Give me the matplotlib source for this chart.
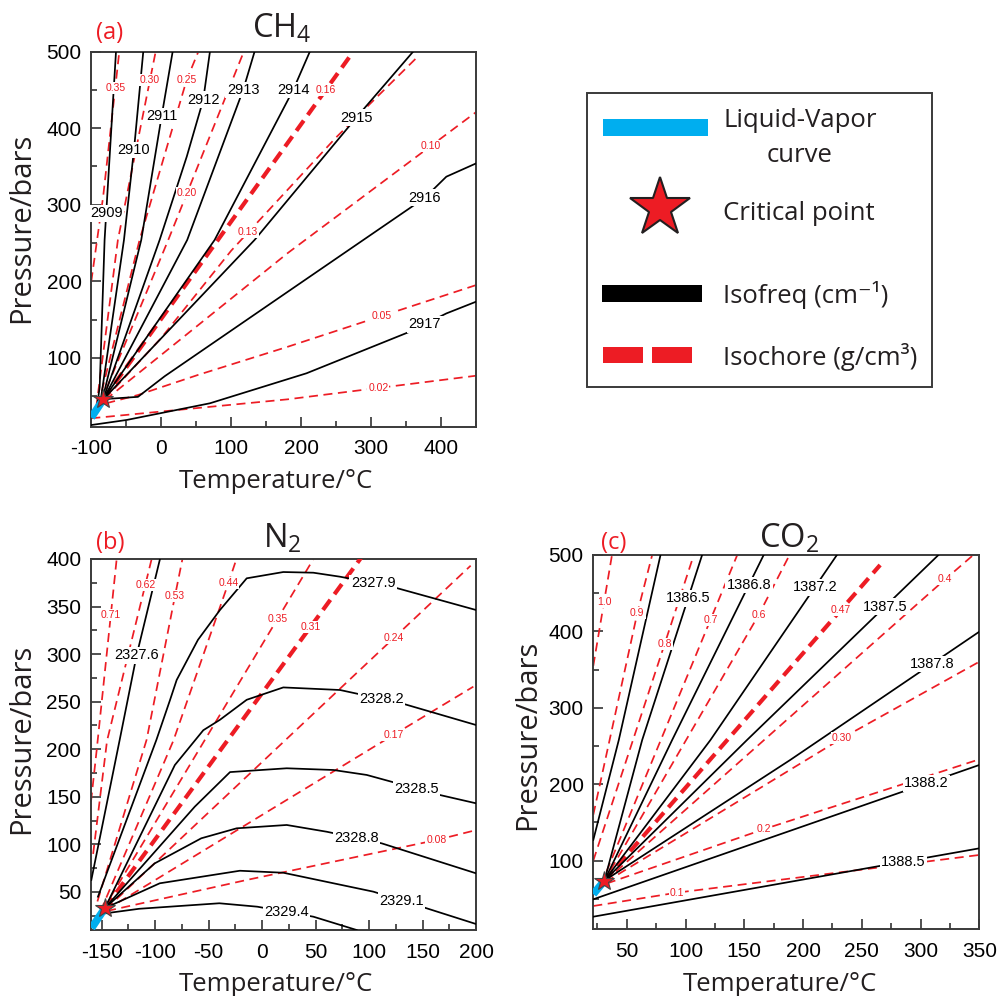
import numpy as np
import matplotlib
matplotlib.use('Agg')
import matplotlib.pyplot as plt
from matplotlib.patches import Rectangle
from matplotlib.ticker import MultipleLocator

plt.rcParams['lines.scale_dashes'] = False
plt.rcParams['axes.unicode_minus'] = False
plt.rcParams['mathtext.fontset'] = 'custom'
plt.rcParams['mathtext.rm'] = 'Open Sans'
plt.rcParams['mathtext.it'] = 'Open Sans'
plt.rcParams['mathtext.bf'] = 'Open Sans'

RED = '#ED1C24'
BLUE = '#00AEEF'
INK = '#231F20'

# ---------------- DATA ----------------
# (a) CH4
a_crit = (-82.6, 46.0)
a_lv_T = [-100, -82.6]
a_lv_P = [22, 46]
a_dens = ['0.35', '0.30', '0.25', '0.20', '0.16', '0.13', '0.10', '0.05', '0.02']
a_dens_T = [[-100, -83, -60], [-93, -62, -8], [-90, -31, 36.3, 53], [-86, 10, 118],
            [-82.6, 269], [-81, 0, 100, 250, 365], [-80, 181, 450],
            [-78.6, -33.3, 52.4, 181, 450], [-100, 181, 450]]
a_dens_P = [[200, 311, 500], [35, 254, 500], [38, 254, 463, 500], [43, 254, 500],
            [46, 493], [46, 126, 240, 388, 492], [45, 237, 421],
            [40.6, 51.4, 77.6, 114.5, 195], [21, 45.8, 76.6]]
a_freq = ['2909', '2910', '2911', '2912', '2913', '2914', '2915', '2916', '2917']
a_freq_T = [[-92, -88, -81, -64.7], [-87, -53.3, -39, -25.7], [-84, -28.6, 0.6, 16.3],
            [-83, -2.3, 36.5, 60, 69.6], [-82.6, 37.1, 117.1, 133.4],
            [-82.6, 76.3, 188.6, 212.4], [-82.6, 133.4, 279, 360],
            [-82.6, -33.3, 5, 181, 376.7, 407.6, 450],
            [-100, -49.4, 69.6, 207.7, 355, 407.6, 450]]
a_freq_P = [[35, 62, 254, 500], [42, 254, 371.6, 500], [46, 254, 416, 500],
            [46, 254, 363, 437, 500], [46, 254, 450, 500], [46, 254, 450, 500],
            [46, 254, 414, 500], [46, 49, 76, 186.4, 309, 336.7, 354],
            [12.2, 18.8, 40.6, 79.8, 134, 158, 173.3]]

# (b) N2
b_crit = (-147.0, 33.0)
b_lv_T = [-159.5, -147]
b_lv_P = [12, 33]
b_dens = ['0.71', '0.62', '0.53', '0.44', '0.35', '0.31', '0.24', '0.17', '0.08']
b_dens_T = [[-160, -154.7, -136], [-158, -145, -103.3], [-154, -108, -81.5, -74.5],
            [-151, -83, -31.6, -24], [-149, 48], [-147, 93], [-146, 195],
            [-146, 122.7, 197.5], [-145, -14.4, 163.2, 200]]
b_dens_P = [[145, 199, 400], [90, 209, 400], [40, 210, 361, 400],
            [30, 209, 374.5, 400], [31, 400], [33, 402], [32, 393],
            [31, 215, 265.8], [30, 62.6, 104.6, 115]]
b_freq = ['2327.6', '2327.9', '2328.2', '2328.5', '2328.8', '2329.1', '2329.4']
b_freq_T = [[-159.7, -133.2, -117.3, -95.5],
            [-153.5, -98.9, -86.1, -79.9, -60, -39.4, -14.4, 19.8, 47.9, 72.8, 121.2, 200],
            [-147, -81.6, -55, -39.4, -14.4, 19.8, 72.8, 130.4, 200],
            [-147, -63, -30, 23, 66.6, 97.8, 166.3, 200],
            [-147, -100.5, -56.9, -23.8, 23, 60.4, 111.8, 200],
            [-147, -95.7, -20.8, 19.8, 104, 153.9, 200],
            [-150, -115, -40, -4.5, 47.9, 88.4]]
b_freq_P = [[62.6, 209.7, 299, 400],
            [45, 209.7, 251.8, 272.8, 315, 346.4, 379.7, 386.3, 385.6, 381.4, 370.9, 346.4],
            [33, 183.4, 220, 231, 252, 265, 262.3, 248.3, 225.5],
            [33, 139.6, 176, 180, 178.2, 173, 151.9, 143.2],
            [33, 80, 106.4, 116.9, 120.4, 113.3, 101.1, 69.6],
            [33, 59.1, 72.3, 70.2, 50.3, 32.8, 16.3],
            [27, 32.3, 38.1, 34.5, 24, 10]]

# (c) CO2
c_crit = (31.0, 73.8)
c_lv_T = [21.5, 31]
c_lv_P = [56, 73.8]
c_dens = ['1.0', '0.9', '0.8', '0.7', '0.6', '0.47', '0.4', '0.30', '0.2', '0.1']
c_dens_T = [[21.5, 37.4], [21.5, 58.9, 71.6], [21.5, 82.1, 107], [28, 144],
            [30, 162.2, 188.5], [31, 265.6], [31.5, 320.8, 344.9], [32, 233, 350],
            [33, 166.4, 350], [21.5, 92.9, 350]]
c_dens_P = [[355, 500], [160, 423.6, 500], [100, 383, 500], [68, 500],
            [71, 421.4, 500], [73.8, 486.9], [73, 468, 500], [72, 260, 360.3],
            [70, 140.9, 232.5], [40.5, 58, 107.3]]
c_freq = ['', '1386.5', '1386.8', '1387.2', '1387.5', '1387.8', '1388.2', '1388.5']
c_freq_T = [[21.5, 43.2, 78.7], [31, 63.1, 114.1], [31, 88.6, 166.5], [31, 121.2, 228.8],
            [31, 152.3, 315.2], [31, 189, 350], [21.5, 350], [21.5, 350]]
c_freq_P = [[127, 257.8, 500], [73.8, 257.8, 500], [73.8, 257.8, 500], [73.8, 257.8, 500],
            [73.8, 257.8, 500], [73.8, 231.6, 399.6], [49.3, 225.1], [26.5, 116]]

# ---------------- LAYOUT (label anchors) ----------------
a_dens_lab = [('P', 452.5), ('P', 463), ('P', 463), ('P', 315), ('P', 450), ('P', 264),
              ('P', 376.7), ('P', 154.6), ('P', 60.6)]
a_freq_lab = [('P', 289), ('P', 371.6), ('P', 416), ('P', 437), ('P', 450), ('P', 450),
              ('P', 414), ('P', 309), ('P', 144)]
b_dens_lab = [('P', 341), ('P', 372.7), ('P', 361), ('P', 374.5), ('P', 336.6), ('P', 328.8),
              ('P', 316.6), ('P', 215), ('P', 104.6)]
b_freq_lab = [('P', 299), ('T', 103.9), ('T', 111.8), ('T', 144.5), ('T', 88.4),
              ('T', 130.5), ('T', 23)]
c_dens_lab = [('P', 438.8), ('P', 423.6), ('P', 383), ('P', 414.9), ('P', 421.4), ('P', 428),
              ('P', 468), ('T', 233), ('T', 166.4), ('T', 92.9)]
c_freq_lab = [None, ('P', 443.3), ('P', 460.7), ('P', 457.7), ('P', 432.3), ('T', 309.5),
              ('T', 305.2), ('T', 285.3)]

W, H = 998, 996
fig = plt.figure(figsize=(W / 100, H / 100), dpi=100)

TICK_FS = 15
BLACK_LAB_FS = 10.5
RED_LAB_FS = 7.5


def px_axes(l, r, t, b):
    return fig.add_axes([l / W, 1 - b / H, (r - l) / W, (b - t) / H])


def put_label(ax, T, P, spec, text, color, size):
    key, val = spec
    if key == 'P':
        x, y = np.interp(val, P, T), val
    else:
        x, y = val, np.interp(val, T, P)
    ax.text(x, y, text, color=color, fontsize=size, ha='center', va='center',
            family='Liberation Sans', zorder=7,
            bbox=dict(boxstyle='square,pad=0.1', fc='white', ec='none'))


def panel(ax, crit, lvT, lvP, dn, dT, dP, dlab, fn, fT, fP, flab, crit_name,
          xlim, ylim, xmaj, xmin, ymaj, ymin):
    for name, T, P, spec in zip(dn, dT, dP, dlab):
        if name == crit_name:
            ax.plot(T, P, color=RED, lw=3.0, ls=(0, (9, 5)), zorder=3,
                    dash_capstyle='butt')
        else:
            ax.plot(T, P, color=RED, lw=1.25, ls=(0, (6.5, 4)), zorder=2,
                    dash_capstyle='butt')
        put_label(ax, T, P, spec, name, RED, RED_LAB_FS)
    for name, T, P, spec in zip(fn, fT, fP, flab):
        ax.plot(T, P, color='black', lw=1.25, zorder=4)
        if spec is not None:
            put_label(ax, T, P, spec, name, 'black', BLACK_LAB_FS)
    ax.plot(lvT, lvP, color=BLUE, lw=5.5, zorder=5, solid_capstyle='butt')
    ax.plot([crit[0]], [crit[1]], marker='*', ms=15, mfc=RED, mec='#444444',
            mew=0.8, zorder=8, clip_on=False)
    ax.set_xlim(*xlim)
    ax.set_ylim(*ylim)
    ax.xaxis.set_major_locator(MultipleLocator(xmaj))
    ax.xaxis.set_minor_locator(MultipleLocator(xmin))
    ax.yaxis.set_major_locator(MultipleLocator(ymaj))
    ax.yaxis.set_minor_locator(MultipleLocator(ymin))
    ax.tick_params(which='both', direction='in', color='#333333', width=1.2,
                   top=False, right=False)
    ax.tick_params(axis='y', pad=7)
    ax.tick_params(axis='x', pad=9)
    ax.tick_params(which='major', length=7)
    ax.tick_params(which='minor', length=4)
    for s in ax.spines.values():
        s.set_linewidth(1.4)
        s.set_color('#3a3a3a')


axa = px_axes(91.3, 476, 51.7, 426.7)
panel(axa, a_crit, a_lv_T, a_lv_P, a_dens, a_dens_T, a_dens_P, a_dens_lab,
      a_freq, a_freq_T, a_freq_P, a_freq_lab, '0.16',
      (-100, 450), (10, 500), 100, 50, 100, 50)
axa.set_yticks([100, 200, 300, 400, 500])

axb = px_axes(91, 476, 559, 930)
panel(axb, b_crit, b_lv_T, b_lv_P, b_dens, b_dens_T, b_dens_P, b_dens_lab,
      b_freq, b_freq_T, b_freq_P, b_freq_lab, '0.31',
      (-160, 200), (10, 400), 50, 25, 50, 25)
axb.set_yticks(np.arange(50, 401, 50))
axb.set_xticks(np.arange(-150, 201, 50))

axc = px_axes(593.3, 979.3, 555, 929.3)
panel(axc, c_crit, c_lv_T, c_lv_P, c_dens, c_dens_T, c_dens_P, c_dens_lab,
      c_freq, c_freq_T, c_freq_P, c_freq_lab, '0.47',
      (21.5, 350), (10, 500), 50, 25, 100, 50)
axc.set_yticks([100, 200, 300, 400, 500])
axc.set_xticks(np.arange(50, 351, 50))

for ax in (axa, axb, axc):
    for lbl in ax.get_xticklabels() + ax.get_yticklabels():
        lbl.set_family('Liberation Sans')
        lbl.set_fontsize(TICK_FS)

# overlay in pixel coordinates
ov = fig.add_axes([0, 0, 1, 1])
ov.set_xlim(0, W)
ov.set_ylim(H, 0)
ov.axis('off')

LBL = dict(family=['Open Sans', 'DejaVu Sans'], color=INK)
for x, y, t in [(282, 38, r'CH$_\mathrm{4}$'), (282, 548, r'N$_\mathrm{2}$'),
                (789, 548, r'CO$_\mathrm{2}$')]:
    ov.text(x, y, t, fontsize=23.5, ha='center', va='baseline', **LBL)
for x, y, t in [(110, 39, '(a)'), (110, 549, '(b)'), (614, 549, '(c)')]:
    ov.text(x, y, t, fontsize=17, ha='center', va='baseline', color=RED,
            family=['Open Sans', 'DejaVu Sans'])
for x, y in [(22, 228), (22, 739), (528, 735)]:
    ov.text(x, y, 'Pressure/bars', fontsize=21, rotation=90, ha='center', va='center', **LBL)
for x, y in [(276, 488), (276, 991), (780, 991)]:
    ov.text(x, y, 'Temperature/°C', fontsize=18.5, ha='center', va='baseline', **LBL)

# legend
ov.add_patch(Rectangle((587, 93), 345, 294, fill=False, ec='#3a3a3a', lw=1.4))
ov.add_patch(Rectangle((602.7, 119.3), 105, 16.4, fc=BLUE, ec='none'))
ov.plot([660], [208], marker='*', ms=45, mfc=RED, mec=INK, mew=1.5)
ov.add_patch(Rectangle((602, 285), 100, 16.7, fc='black', ec='none'))
ov.add_patch(Rectangle((602.7, 347.3), 40.6, 16, fc=RED, ec='none'))
ov.add_patch(Rectangle((651.7, 347.3), 40.6, 16, fc=RED, ec='none'))
LEG = dict(fontsize=18.5, va='baseline', **LBL)
ov.text(800, 127.3, 'Liquid-Vapor', ha='center', **LEG)
ov.text(800, 161.7, 'curve', ha='center', **LEG)
ov.text(723.3, 220, 'Critical point', ha='left', **LEG)
ov.text(723.3, 303.3, 'Isofreq (cm\u207b\u00b9)', ha='left', **LEG)
ov.text(723.3, 365, 'Isochore (g/cm\u00b3)', ha='left', **LEG)

fig.savefig('out.png', dpi=100)
